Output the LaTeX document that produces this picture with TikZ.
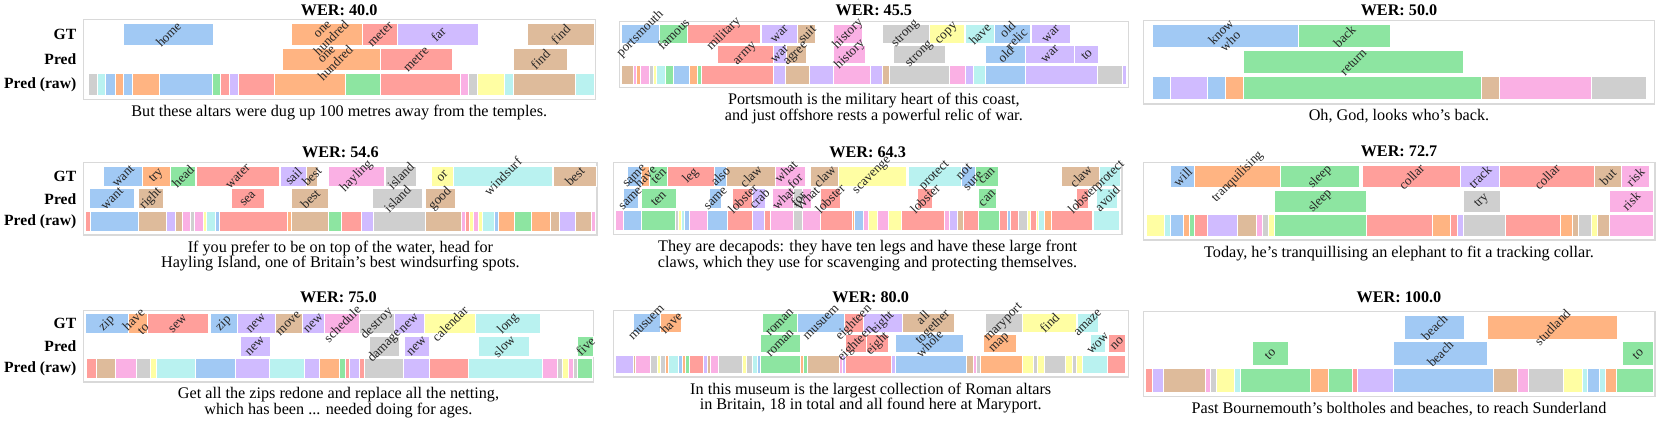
\documentclass[tikz,border=0pt]{standalone}
\usepackage{fontspec}
\setmainfont{Liberation Serif}
\usepackage{tikz}
\usetikzlibrary{calc}
\definecolor{cblue}  {RGB}{161,201,244}
\definecolor{corange}{RGB}{255,180,130}
\definecolor{cgreen} {RGB}{141,229,161}
\definecolor{cred}   {RGB}{255,159,155}
\definecolor{cpurple}{RGB}{208,187,255}
\definecolor{cbrown} {RGB}{222,187,155}
\definecolor{cpink}  {RGB}{250,176,228}
\definecolor{cgray}  {RGB}{207,207,207}
\definecolor{cyellow}{RGB}{255,254,163}
\definecolor{ccyan}  {RGB}{185,242,240}
\pgfdeclarelayer{labels}
\pgfsetlayers{main,labels}
\newcounter{wcnt}
% word bar: colour, row (0 = GT, 1 = Pred), start, end, word
\newcommand{\wseg}[5]{%
  \pgfmathsetmacro{\yt}{\ft+(\fb-\ft)*(0.047+0.3125*#2)}%
  \pgfmathsetmacro{\yb}{\yt+0.28*(\fb-\ft)}%
  \filldraw[fill=#1, draw=white, line width=0.5pt] (#3,\yt) rectangle (#4,\yb);%
  \stepcounter{wcnt}%
  \begin{pgfonlayer}{labels}
    \node[wlab] (w\arabic{wcnt}) at ({(#3+#4)/2},{(\yt+\yb)/2}) {#5};
  \end{pgfonlayer}%
}
% raw bar: colour, start, end
\newcommand{\rseg}[3]{%
  \pgfmathsetmacro{\yt}{\ft+(\fb-\ft)*0.672}%
  \pgfmathsetmacro{\yb}{\yt+0.28*(\fb-\ft)}%
  \filldraw[fill=#1, draw=white, line width=0.5pt] (#2,\yt) rectangle (#3,\yb);%
}
\newcommand{\rowtags}[2]{%
  \node[rowlab] (#1gt)  at (#2,{\ft+(\fb-\ft)*0.187}) {GT};
  \node[rowlab] (#1pr)  at (#2,{\ft+(\fb-\ft)*0.4995}) {Pred};
  \node[rowlab] (#1raw) at (#2,{\ft+(\fb-\ft)*0.812}) {Pred (raw)};
}

\begin{document}
\begin{tikzpicture}[
    x=1pt, y=1pt,
    wlab/.style={rotate=45, inner sep=0pt, align=center, text=black!85,
      font=\fontsize{6.6}{6.5}\selectfont},
    rowlab/.style={anchor=east, inner sep=0pt,
      font=\bfseries\fontsize{7.8}{8}\selectfont},
    ttl/.style={inner sep=0pt, font=\bfseries\fontsize{8.1}{8}\selectfont},
    capt/.style={anchor=north, align=center, inner sep=0pt,
      font=\fontsize{8.1}{7.8}\selectfont},
    frm/.style={draw=black!15, line width=0.7pt},
  ]
  \useasboundingbox (0,0) rectangle (830,-211);

  % ── WER 40.0 ────────────────────────────────────────────────
  \begin{scope}[shift={(0pt,0pt)}, x=0.19452pt, y=-0.16667pt]
    \def\ft{58}\def\fb{298}
    \node[ttl] (tA) at (872,30) {WER: 40.0};
    \draw[frm] (215,\ft) rectangle (1530,\fb);
    \rowtags{A}{197}
    \wseg{cblue}{0}{318}{548}{home}
    \wseg{corange}{0}{750}{933}{one\\hundred}
    \wseg{cred}{0}{933}{1023}{meter}
    \wseg{cpurple}{0}{1023}{1230}{far}
    \wseg{cbrown}{0}{1355}{1527}{find}
    \wseg{corange}{1}{727}{978}{one\\hundred}
    \wseg{cred}{1}{978}{1162}{metre}
    \wseg{cbrown}{1}{1320}{1458}{find}
    \foreach \cl/\xa/\xb in {cgray/227/250, ccyan/250/272, cblue/272/296,
      corange/296/318, cblue/318/341, corange/341/409, cblue/409/546,
      cgreen/546/568, cred/568/591, cpurple/591/613, cred/613/705,
      corange/705/887, cgreen/887/978, cred/978/1183, cpink/1183/1205,
      cgray/1205/1228, cyellow/1228/1297, ccyan/1297/1320, cbrown/1320/1480,
      ccyan/1480/1527} {\rseg{\cl}{\xa}{\xb}}
    \node[capt] (cA) at (872,\fb+16)
      {But these altars were dug up 100 metres away from the temples.};
  \end{scope}

  % ── WER 45.5 ────────────────────────────────────────────────
  \begin{scope}[shift={(305pt,0pt)}, x=0.17219pt, y=-0.16667pt]
    \def\ft{65}\def\fb{262}
    \node[ttl] (tB) at (766,30) {WER: 45.5};
    \draw[frm] (28,\ft) rectangle (1505,\fb);
    \wseg{cblue}{0}{33}{143}{portsmouth}
    \wseg{cgreen}{0}{143}{225}{famous}
    \wseg{cred}{0}{225}{437}{military}
    \wseg{cpurple}{0}{440}{545}{war}
    \wseg{cbrown}{0}{545}{598}{suit}
    \wseg{cpink}{0}{650}{732}{history}
    \wseg{cgray}{0}{790}{928}{strong}
    \wseg{cyellow}{0}{928}{1030}{copy}
    \wseg{ccyan}{0}{1033}{1115}{have}
    \wseg{cblue}{0}{1115}{1220}{old\\relic}
    \wseg{cpurple}{0}{1225}{1337}{war}
    \wseg{cred}{1}{313}{475}{army}
    \wseg{cpurple}{1}{475}{512}{war}
    \wseg{cbrown}{1}{512}{570}{agree}
    \wseg{cpink}{1}{650}{743}{history}
    \wseg{cgray}{1}{823}{975}{strong}
    \wseg{cblue}{1}{1090}{1207}{old}
    \wseg{cpurple}{1}{1207}{1350}{war}
    \wseg{cpurple}{1}{1350}{1418}{to}
    \foreach \cl/\xa/\xb in {cbrown/33/68, cpink/68/78, corange/78/88,
      cpink/88/115, cgray/115/125, cyellow/125/135, ccyan/135/160,
      cgreen/160/185, cblue/185/230, corange/230/255, cgreen/255/265,
      cred/265/475, cpurple/475/510, cbrown/510/580, cpurple/580/648,
      cpink/648/755, cpurple/755/790, cbrown/790/812, cgray/812/985,
      cpink/985/1033, cpurple/1033/1055, ccyan/1055/1090, cblue/1090/1207,
      cpurple/1207/1415, cgray/1415/1487, cpurple/1487/1500} {\rseg{\cl}{\xa}{\xb}}
    \node[capt] (cB) at (766,\fb+16)
      {Portsmouth is the military heart of this coast,\\and just offshore rests a powerful relic of war.};
  \end{scope}

  % ── WER 50.0 ────────────────────────────────────────────────
  \begin{scope}[shift={(570pt,0pt)}, x=0.16582pt, y=-0.16667pt]
    \def\ft{62}\def\fb{312}
    \node[ttl] (tC) at (781,30) {WER: 50.0};
    \draw[frm] (10,\ft) rectangle (1552,\fb);
    \wseg{cblue}{0}{37}{478}{know\\who}
    \wseg{cgreen}{0}{478}{755}{back}
    \wseg{cgreen}{1}{313}{975}{return}
    \foreach \cl/\xa/\xb in {cblue/37/93, cpurple/93/203, cblue/203/258,
      corange/258/313, cgreen/313/1030, cbrown/1030/1085, cpink/1085/1360,
      cgray/1360/1528} {\rseg{\cl}{\xa}{\xb}}
    \node[capt] (cC) at (781,\fb+16) {Oh, God, looks who's back.};
  \end{scope}

  % ── WER 54.6 ────────────────────────────────────────────────
  \begin{scope}[shift={(0pt,-70pt)}, x=0.19452pt, y=-0.16667pt]
    \def\ft{68}\def\fb{285}
    \node[ttl] (tD) at (875,38) {WER: 54.6};
    \draw[frm] (215,\ft) rectangle (1535,\fb);
    \rowtags{D}{197}
    \wseg{cblue}{0}{267}{367}{want}
    \wseg{corange}{0}{367}{438}{try}
    \wseg{cgreen}{0}{438}{503}{head}
    \wseg{cred}{0}{505}{718}{water}
    \wseg{cpurple}{0}{720}{788}{sail}
    \wseg{cbrown}{0}{788}{815}{best}
    \wseg{cpink}{0}{845}{988}{hayling}
    \wseg{cgray}{0}{990}{1070}{island}
    \wseg{cyellow}{0}{1110}{1165}{or}
    \wseg{ccyan}{0}{1165}{1420}{windsurf}
    \wseg{cbrown}{0}{1422}{1533}{best}
    \wseg{cblue}{1}{230}{347}{want}
    \wseg{cbrown}{1}{355}{420}{right}
    \wseg{cred}{1}{595}{680}{sea}
    \wseg{cbrown}{1}{750}{845}{best}
    \wseg{cgray}{1}{958}{1085}{island}
    \wseg{cbrown}{1}{1093}{1170}{good}
    \foreach \cl/\xa/\xb in {cred/220/232, cblue/232/357, cbrown/357/428,
      cpurple/428/450, cbrown/450/470, cpink/470/490, cgray/490/500,
      cpink/500/522, cyellow/522/532, ccyan/532/553, cblue/553/563,
      cred/563/740, corange/740/750, cbrown/750/845, cgreen/845/877,
      cred/877/928, cpurple/928/960, cgray/960/1093, cbrown/1093/1187,
      cpink/1187/1197, cred/1197/1207, cyellow/1207/1217, cpink/1217/1230,
      cyellow/1230/1240, ccyan/1240/1270, cblue/1270/1282, corange/1282/1323,
      cgreen/1323/1365, corange/1365/1415, cbrown/1415/1438, cpurple/1438/1480,
      cbrown/1480/1520, cpink/1520/1530} {\rseg{\cl}{\xa}{\xb}}
    \node[capt] (cD) at (875,\fb+16)
      {If you prefer to be on top of the water, head for\\Hayling Island, one of Britain's best windsurfing spots.};
  \end{scope}

  % ── WER 64.3 ────────────────────────────────────────────────
  \begin{scope}[shift={(305pt,-70pt)}, x=0.17219pt, y=-0.16667pt]
    \def\ft{68}\def\fb{283}
    \node[ttl] (tE) at (748,38) {WER: 64.3};
    \draw[frm] (10,\ft) rectangle (1487,\fb);
    \wseg{cblue}{0}{52}{90}{same}
    \wseg{corange}{0}{90}{115}{have}
    \wseg{cgreen}{0}{115}{168}{ten}
    \wseg{cred}{0}{168}{302}{leg}
    \wseg{cblue}{0}{302}{338}{also}
    \wseg{cbrown}{0}{338}{480}{claw}
    \wseg{cpink}{0}{480}{568}{what\\for}
    \wseg{cbrown}{0}{583}{663}{claw}
    \wseg{cyellow}{0}{663}{862}{scavenge}
    \wseg{ccyan}{0}{867}{1020}{protect}
    \wseg{cblue}{0}{1020}{1062}{not\\sure}
    \wseg{cgreen}{0}{1062}{1127}{can}
    \wseg{cbrown}{0}{1312}{1422}{claw}
    \wseg{ccyan}{0}{1422}{1482}{protect}
    \wseg{cblue}{1}{38}{82}{same}
    \wseg{cgreen}{1}{90}{192}{ten}
    \wseg{cblue}{1}{290}{325}{same}
    \wseg{cred}{1}{357}{415}{lobster}
    \wseg{cpurple}{1}{415}{452}{crab}
    \wseg{cpink}{1}{473}{533}{what}
    \wseg{cgray}{1}{533}{560}{for}
    \wseg{cpink}{1}{560}{585}{What}
    \wseg{cred}{1}{610}{668}{lobster}
    \wseg{cred}{1}{893}{937}{lobster}
    \wseg{cgreen}{1}{1070}{1122}{can}
    \wseg{cred}{1}{1355}{1390}{lobster}
    \wseg{ccyan}{1}{1413}{1475}{avoid}
    \foreach \cl/\xa/\xb in {cpink/15/38, cblue/38/90, cgreen/90/190,
      cgray/190/200, cyellow/200/208, ccyan/208/215, cblue/215/232,
      cpink/232/282, cblue/282/342, cred/342/415, cpurple/415/450,
      cred/450/465, cpink/465/533, cgray/533/560, cpink/560/610,
      cred/610/705, corange/705/710, cblue/710/735, cpink/735/750,
      cyellow/750/778, cpink/778/810, cyellow/810/845, cred/845/970,
      cpink/970/985, cpurple/985/1010, cbrown/1010/1027, cred/1027/1070,
      cgreen/1070/1130, cred/1130/1155, cblue/1155/1162, cred/1162/1187,
      cgray/1187/1213, cyellow/1213/1220, cred/1220/1237, cyellow/1237/1245,
      ccyan/1245/1262, corange/1262/1282, cred/1282/1400, corange/1400/1405,
      ccyan/1405/1480} {\rseg{\cl}{\xa}{\xb}}
    \node[capt] (cE) at (748,\fb+16)
      {They are decapods: they have ten legs and have these large front\\claws, which they use for scavenging and protecting themselves.};
  \end{scope}

  % ── WER 72.7 ────────────────────────────────────────────────
  \begin{scope}[shift={(570pt,-70pt)}, x=0.16582pt, y=-0.16667pt]
    \def\ft{67}\def\fb{300}
    \node[ttl] (tF) at (781,35) {WER: 72.7};
    \draw[frm] (10,\ft) rectangle (1553,\fb);
    \wseg{cblue}{0}{93}{165}{will}
    \wseg{corange}{0}{165}{423}{tranquilising}
    \wseg{cgreen}{0}{423}{663}{sleep}
    \wseg{cred}{0}{672}{965}{collar}
    \wseg{cpurple}{0}{965}{1085}{track}
    \wseg{cred}{0}{1085}{1370}{collar}
    \wseg{cbrown}{0}{1370}{1452}{but}
    \wseg{cpink}{0}{1452}{1535}{risk}
    \wseg{cgreen}{1}{405}{682}{sleep}
    \wseg{cgray}{1}{975}{1087}{try}
    \wseg{cpink}{1}{1415}{1547}{risk}
    \foreach \cl/\xa/\xb in {cyellow/20/75, ccyan/75/93, cblue/93/130,
      corange/130/148, cgreen/148/165, cred/165/203, cpurple/203/293,
      cbrown/293/350, cpink/350/368, cgray/368/387, cyellow/387/405,
      cgreen/405/682, cred/682/883, corange/883/937, cred/937/957,
      cpurple/957/975, cgray/975/1103, cred/1103/1268, corange/1268/1305,
      cbrown/1305/1323, cgray/1323/1360, cyellow/1360/1378, cbrown/1378/1415,
      cpink/1415/1547} {\rseg{\cl}{\xa}{\xb}}
    \node[capt] (cF) at (781,\fb+16)
      {Today, he's tranquillising an elephant to fit a tracking collar.};
  \end{scope}

  % ── WER 75.0 ────────────────────────────────────────────────
  \begin{scope}[shift={(0pt,-141pt)}, x=0.19452pt, y=-0.16667pt]
    \def\ft{85}\def\fb{300}
    \node[ttl] (tG) at (870,45) {WER: 75.0};
    \draw[frm] (215,\ft) rectangle (1525,\fb);
    \rowtags{G}{197}
    \wseg{cblue}{0}{220}{330}{zip}
    \wseg{corange}{0}{330}{380}{have\\to}
    \wseg{cred}{0}{380}{535}{sew}
    \wseg{cblue}{0}{540}{610}{zip}
    \wseg{cpurple}{0}{610}{707}{new}
    \wseg{cbrown}{0}{707}{777}{move}
    \wseg{cpurple}{0}{777}{835}{new}
    \wseg{cpink}{0}{835}{925}{schedule}
    \wseg{cgray}{0}{925}{1013}{destroy}
    \wseg{cpurple}{0}{1013}{1090}{new}
    \wseg{cyellow}{0}{1090}{1223}{calendar}
    \wseg{ccyan}{0}{1223}{1390}{long}
    \wseg{cpurple}{1}{617}{695}{new}
    \wseg{cgray}{1}{950}{1027}{damage}
    \wseg{cpurple}{1}{1040}{1103}{new}
    \wseg{ccyan}{1}{1230}{1360}{slow}
    \wseg{cgreen}{1}{1485}{1525}{five}
    \foreach \cl/\xa/\xb in {cred/222/247, cbrown/247/298, cpink/298/350,
      cgray/350/387, cyellow/387/402, ccyan/402/503, cblue/503/605,
      cpurple/605/693, ccyan/693/783, cpurple/783/822, corange/822/872,
      cgreen/872/887, cred/887/898, cpurple/898/923, cred/923/937,
      cgray/937/1038, cpurple/1038/1103, cred/1103/1205, ccyan/1205/1395,
      cpink/1395/1433, cgray/1433/1447, cyellow/1447/1460, cpink/1460/1473,
      cgray/1473/1485, cgreen/1485/1522} {\rseg{\cl}{\xa}{\xb}}
    \node[capt] (cG) at (870,\fb+16)
      {Get all the zips redone and replace all the netting,\\which has been ... needed doing for ages.};
  \end{scope}

  % ── WER 80.0 ────────────────────────────────────────────────
  \begin{scope}[shift={(305pt,-141pt)}, x=0.17219pt, y=-0.16667pt]
    \def\ft{85}\def\fb{285}
    \node[ttl] (tH) at (757,45) {WER: 80.0};
    \draw[frm] (10,\ft) rectangle (1505,\fb);
    \wseg{cblue}{0}{67}{147}{musuem}
    \wseg{corange}{0}{147}{207}{have}
    \wseg{cgreen}{0}{442}{545}{roman}
    \wseg{cblue}{0}{545}{682}{musuem}
    \wseg{cred}{0}{682}{735}{eighteen}
    \wseg{cpurple}{0}{735}{848}{eight}
    \wseg{cbrown}{0}{848}{1000}{all\\together}
    \wseg{cgray}{0}{1090}{1197}{maryport}
    \wseg{cyellow}{0}{1197}{1355}{find}
    \wseg{ccyan}{0}{1358}{1418}{amaze}
    \wseg{cgreen}{1}{437}{552}{roman}
    \wseg{cred}{1}{683}{745}{eighteen}
    \wseg{cred}{1}{745}{810}{eight}
    \wseg{cblue}{1}{828}{1027}{whole}
    \wseg{corange}{1}{1085}{1180}{map}
    \wseg{ccyan}{1}{1395}{1440}{wow}
    \wseg{cred}{1}{1447}{1498}{no}
    \foreach \cl/\xa/\xb in {cpurple/15/67, cbrown/67/75, cpink/75/117,
      cgray/117/137, cyellow/137/147, cgray/147/160, corange/160/170,
      ccyan/170/200, cblue/200/210, corange/210/220, cgreen/220/230,
      cred/230/272, cpurple/272/282, cbrown/282/292, cpink/292/315,
      cgray/315/385, cyellow/385/395, cgray/395/415, ccyan/415/427,
      cblue/427/437, cgreen/437/552, corange/552/562, cgreen/562/572,
      cbrown/572/665, cpink/665/675, cpurple/675/685, cred/685/818,
      cpurple/818/828, cblue/828/1035, cbrown/1035/1055, cpink/1055/1065,
      cgray/1065/1075, corange/1075/1198, cyellow/1198/1230, cgray/1230/1240,
      cyellow/1240/1262, cgray/1262/1323, cyellow/1323/1343, cgray/1343/1355,
      cyellow/1355/1373, ccyan/1373/1445, cred/1445/1498} {\rseg{\cl}{\xa}{\xb}}
    \node[capt] (cH) at (757,\fb+16)
      {In this museum is the largest collection of Roman altars\\in Britain, 18 in total and all found here at Maryport.};
  \end{scope}

  % ── WER 100.0 ───────────────────────────────────────────────
  \begin{scope}[shift={(570pt,-141pt)}, x=0.16582pt, y=-0.16667pt]
    \def\ft{88}\def\fb{343}
    \node[ttl] (tI) at (781,45) {WER: 100.0};
    \draw[frm] (10,\ft) rectangle (1553,\fb);
    \wseg{cblue}{0}{798}{978}{beach}
    \wseg{corange}{0}{1047}{1440}{studland}
    \wseg{cgreen}{1}{338}{447}{to}
    \wseg{cblue}{1}{763}{1048}{beach}
    \wseg{cgreen}{1}{1455}{1547}{to}
    \foreach \cl/\xa/\xb in {cred/18/37, cpurple/37/72, cbrown/72/197,
      cpink/197/213, cgray/213/232, cyellow/232/285, ccyan/285/303,
      cgreen/303/515, corange/515/568, cgreen/568/640, cred/640/657,
      cpurple/657/763, cblue/763/1067, cbrown/1067/1137, cpink/1137/1172,
      cgray/1172/1278, cyellow/1278/1333, ccyan/1333/1350, cblue/1350/1385,
      ccyan/1385/1403, corange/1403/1438, cgreen/1438/1547} {\rseg{\cl}{\xa}{\xb}}
    \node[capt] (cI) at (781,\fb+16)
      {Past Bournemouth's boltholes and beaches, to reach Sunderland};
  \end{scope}
\end{tikzpicture}
\end{document}
